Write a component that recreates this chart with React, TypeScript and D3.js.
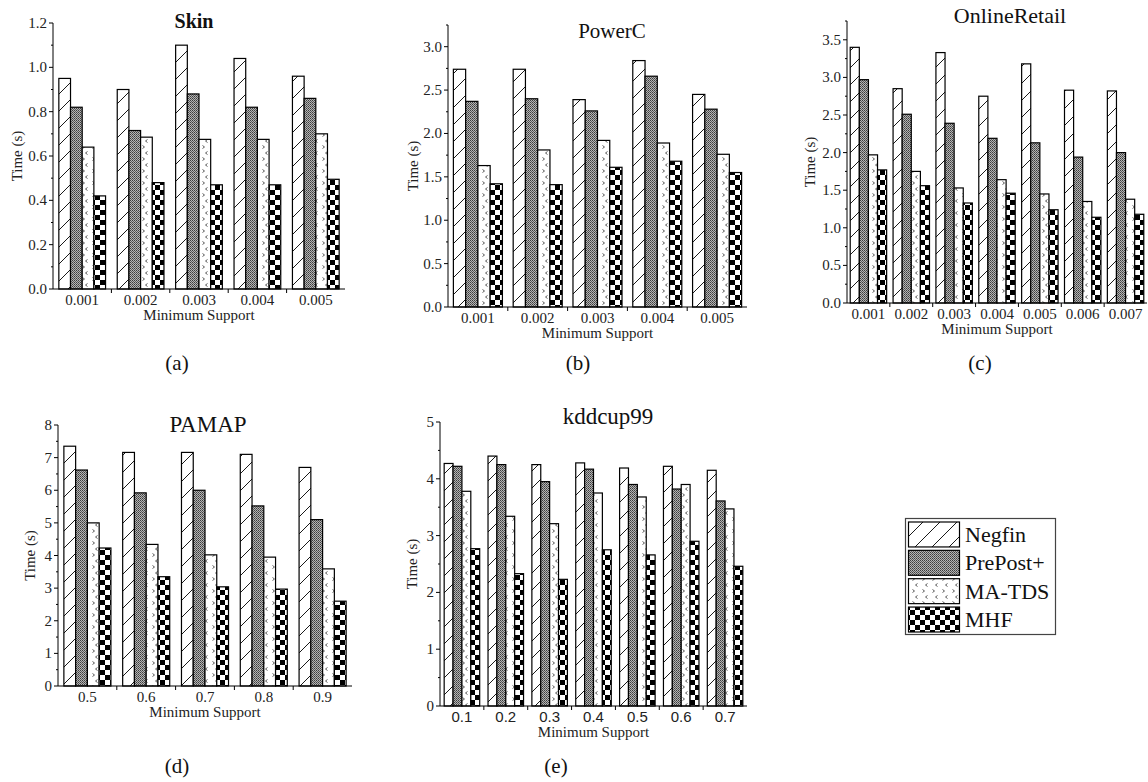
import React from "react";
import * as d3 from "d3";

const seriesNames = ["Negfin", "PrePost+", "MA-TDS", "MHF"];
const patternIds = ["pNegfin", "pPrePost", "pMATDS", "pMHF"];

const skinSupports = ["0.001", "0.002", "0.003", "0.004", "0.005"];
const skinNegfin = [0.95, 0.9, 1.1, 1.04, 0.96];
const skinPrePost = [0.82, 0.715, 0.88, 0.82, 0.86];
const skinMATDS = [0.64, 0.685, 0.675, 0.675, 0.7];
const skinMHF = [0.42, 0.48, 0.47, 0.47, 0.495];
const skinTicks = [0, 0.2, 0.4, 0.6, 0.8, 1.0, 1.2];

const powerSupports = ["0.001", "0.002", "0.003", "0.004", "0.005"];
const powerNegfin = [2.74, 2.74, 2.39, 2.84, 2.45];
const powerPrePost = [2.37, 2.4, 2.26, 2.66, 2.28];
const powerMATDS = [1.63, 1.81, 1.92, 1.89, 1.76];
const powerMHF = [1.42, 1.41, 1.61, 1.68, 1.55];
const powerTicks = [0, 0.5, 1.0, 1.5, 2.0, 2.5, 3.0];

const retailSupports = ["0.001", "0.002", "0.003", "0.004", "0.005", "0.006", "0.007"];
const retailNegfin = [3.4, 2.85, 3.33, 2.75, 3.18, 2.83, 2.82];
const retailPrePost = [2.97, 2.51, 2.39, 2.19, 2.13, 1.94, 2.0];
const retailMATDS = [1.97, 1.75, 1.53, 1.64, 1.45, 1.35, 1.38];
const retailMHF = [1.77, 1.56, 1.33, 1.46, 1.24, 1.14, 1.18];
const retailTicks = [0, 0.5, 1.0, 1.5, 2.0, 2.5, 3.0, 3.5];

const pamapSupports = ["0.5", "0.6", "0.7", "0.8", "0.9"];
const pamapNegfin = [7.35, 7.16, 7.16, 7.1, 6.7];
const pamapPrePost = [6.62, 5.92, 6.0, 5.52, 5.1];
const pamapMATDS = [5.0, 4.34, 4.02, 3.95, 3.59];
const pamapMHF = [4.23, 3.35, 3.04, 2.97, 2.6];
const pamapTicks = [0, 1, 2, 3, 4, 5, 6, 7, 8];

const kddSupports = ["0.1", "0.2", "0.3", "0.4", "0.5", "0.6", "0.7"];
const kddNegfin = [4.27, 4.4, 4.25, 4.28, 4.19, 4.22, 4.15];
const kddPrePost = [4.22, 4.25, 3.95, 4.17, 3.9, 3.82, 3.61];
const kddMATDS = [3.78, 3.34, 3.21, 3.75, 3.68, 3.9, 3.47];
const kddMHF = [2.77, 2.33, 2.23, 2.75, 2.66, 2.9, 2.46];
const kddTicks = [0, 1, 2, 3, 4, 5];

const SERIF = "'Liberation Serif', 'Times New Roman', serif";
const SANS = "'Liberation Sans', Arial, sans-serif";

const panels = [
  {
    title: "Skin", titleX: 194, titleY: 28, titleSize: 20, titleWeight: "bold",
    cats: skinSupports, series: [skinNegfin, skinPrePost, skinMATDS, skinMHF],
    ticks: skinTicks, minor: 0.1, yMax: 1.2, fmt: ".1f",
    x0: 53, x1: 345, y0: 289, yTop: 23, pad: 0.2,
    ylabX: 17, xLabFont: SERIF, caption: "(a)", capX: 177, capY: 370,
  },
  {
    title: "PowerC", titleX: 612, titleY: 38, titleSize: 21, titleWeight: "normal",
    cats: powerSupports, series: [powerNegfin, powerPrePost, powerMATDS, powerMHF],
    ticks: powerTicks, minor: 0.25, yMax: 3.25, fmt: ".1f",
    x0: 448, x1: 747, y0: 307, yTop: 25, pad: 0.18,
    ylabX: 413, xLabFont: SERIF, caption: "(b)", capX: 578, capY: 370,
  },
  {
    title: "OnlineRetail", titleX: 1010, titleY: 23, titleSize: 22, titleWeight: "normal",
    cats: retailSupports, series: [retailNegfin, retailPrePost, retailMATDS, retailMHF],
    ticks: retailTicks, minor: 0.25, yMax: 3.75, fmt: ".1f",
    x0: 847, x1: 1147, y0: 303, yTop: 21, pad: 0.15,
    ylabX: 810, xLabFont: SERIF, caption: "(c)", capX: 980, capY: 370,
  },
  {
    title: "PAMAP", titleX: 208, titleY: 432, titleSize: 23, titleWeight: "normal",
    cats: pamapSupports, series: [pamapNegfin, pamapPrePost, pamapMATDS, pamapMHF],
    ticks: pamapTicks, minor: 0.5, yMax: 8, fmt: "d",
    x0: 58, x1: 352, y0: 686, yTop: 425, pad: 0.2,
    ylabX: 30, xLabFont: SERIF, caption: "(d)", capX: 177, capY: 773,
  },
  {
    title: "kddcup99", titleX: 608, titleY: 424, titleSize: 23, titleWeight: "normal",
    cats: kddSupports, series: [kddNegfin, kddPrePost, kddMATDS, kddMHF],
    ticks: kddTicks, minor: 0.5, yMax: 5, fmt: "d",
    x0: 440, x1: 747, y0: 706, yTop: 422, pad: 0.19,
    ylabX: 412, xLabFont: SANS, caption: "(e)", capX: 556, capY: 773,
  },
];

function Patterns() {
  return (
    <defs>
      <pattern id="pNegfin" width="17" height="17" patternUnits="userSpaceOnUse">
        <rect width="17" height="17" fill="#fff" />
        <path d="M0,17 L17,0 M-4,4 L4,-4 M13,21 L21,13" stroke="#000" strokeWidth="0.9" />
      </pattern>
      <pattern id="pPrePost" width="2" height="2" patternUnits="userSpaceOnUse">
        <rect width="2" height="2" fill="#b4b4b4" />
        <rect width="1" height="1" fill="#3c3c3c" />
        <rect x="1" y="1" width="1" height="1" fill="#5c5c5c" />
      </pattern>
      <pattern id="pMATDS" width="10" height="12" patternUnits="userSpaceOnUse">
        <rect width="10" height="12" fill="#fff" />
        <path d="M2.5,1.5 L4.5,3 L2.5,4.5 M7.5,7.5 L5.5,9 L7.5,10.5" stroke="#333" strokeWidth="0.8" fill="none" />
      </pattern>
      <pattern id="pMHF" width="10" height="10" patternUnits="userSpaceOnUse">
        <rect width="10" height="10" fill="#fff" />
        <rect width="5" height="5" fill="#000" />
        <rect x="5" y="5" width="5" height="5" fill="#000" />
      </pattern>
    </defs>
  );
}

function Panel({ cfg }: { cfg: any }) {
  const x = d3
    .scaleBand<string>()
    .domain(cfg.cats)
    .range([cfg.x0, cfg.x1])
    .paddingInner(cfg.pad)
    .paddingOuter(cfg.pad / 2);
  const sub = d3.scaleBand<string>().domain(seriesNames).range([0, x.bandwidth()]);
  const y = d3.scaleLinear().domain([0, cfg.yMax]).range([cfg.y0, cfg.yTop]);
  const fmt = d3.format(cfg.fmt);
  const minors = d3
    .range(0, cfg.yMax + 1e-9, cfg.minor)
    .filter((v: number) => !cfg.ticks.some((t: number) => Math.abs(t - v) < 1e-9));
  const boundaries = d3.range(1, cfg.cats.length).map((i: number) => cfg.x0 + i * x.step());
  const yMid = (cfg.y0 + cfg.yTop) / 2;

  return (
    <g>
      {cfg.cats.map((c: string, ci: number) => (
        <g key={c}>
          {cfg.series.map((s: number[], si: number) => (
            <rect
              key={si}
              x={(x(c) as number) + (sub(seriesNames[si]) as number)}
              y={y(s[ci])}
              width={sub.bandwidth()}
              height={cfg.y0 - y(s[ci])}
              fill={`url(#${patternIds[si]})`}
              stroke="#000"
              strokeWidth={1.2}
            />
          ))}
        </g>
      ))}
      {/* axes */}
      <line x1={cfg.x0} x2={cfg.x0} y1={cfg.y0} y2={y(cfg.yMax)} stroke="#000" strokeWidth={1} />
      <line x1={cfg.x0} x2={cfg.x1} y1={cfg.y0} y2={cfg.y0} stroke="#000" strokeWidth={1} />
      {cfg.ticks.map((t: number) => (
        <g key={t}>
          <line x1={cfg.x0 - 4} x2={cfg.x0} y1={y(t)} y2={y(t)} stroke="#000" />
          <text
            x={cfg.x0 - 6}
            y={y(t)}
            textAnchor="end"
            dominantBaseline="central"
            fontFamily={SERIF}
            fontSize={15}
            fill="#222"
          >
            {fmt(t)}
          </text>
        </g>
      ))}
      {minors.map((t: number) => (
        <line key={"m" + t} x1={cfg.x0 - 2} x2={cfg.x0} y1={y(t)} y2={y(t)} stroke="#000" />
      ))}
      {boundaries.map((b: number, i: number) => (
        <line key={"b" + i} x1={b} x2={b} y1={cfg.y0} y2={cfg.y0 + 4} stroke="#000" />
      ))}
      {cfg.cats.map((c: string) => (
        <text
          key={"l" + c}
          x={(x(c) as number) + x.bandwidth() / 2}
          y={cfg.y0 + 16}
          textAnchor="middle"
          fontFamily={cfg.xLabFont}
          fontSize={15}
          fill="#222"
        >
          {c}
        </text>
      ))}
      <text
        x={(cfg.x0 + cfg.x1) / 2}
        y={cfg.y0 + 31}
        textAnchor="middle"
        fontFamily={SERIF}
        fontSize={15}
        fill="#222"
      >
        Minimum Support
      </text>
      <text
        transform={`translate(${cfg.ylabX},${yMid}) rotate(-90)`}
        textAnchor="middle"
        dominantBaseline="central"
        fontFamily={SERIF}
        fontSize={15}
        fill="#222"
      >
        Time (s)
      </text>
      <text
        x={cfg.titleX}
        y={cfg.titleY}
        textAnchor="middle"
        fontFamily={SERIF}
        fontSize={cfg.titleSize}
        fontWeight={cfg.titleWeight}
        fill="#111"
      >
        {cfg.title}
      </text>
      <text x={cfg.capX} y={cfg.capY} textAnchor="middle" fontFamily={SERIF} fontSize={21} fill="#111">
        {cfg.caption}
      </text>
    </g>
  );
}

function Legend() {
  const rowY = d3.scaleBand<string>().domain(seriesNames).range([522, 632]).paddingInner(0.12);
  return (
    <g>
      <rect x={905.5} y={518.5} width={150} height={116} fill="#fff" stroke="#444" strokeWidth={1.2} />
      {seriesNames.map((s, i) => (
        <g key={s}>
          <rect
            x={908.5}
            y={rowY(s) as number}
            width={51}
            height={rowY.bandwidth()}
            fill={`url(#${patternIds[i]})`}
            stroke="#000"
            strokeWidth={1.2}
          />
          <text
            x={965}
            y={(rowY(s) as number) + rowY.bandwidth() / 2}
            dominantBaseline="central"
            fontFamily={SERIF}
            fontSize={22}
            fill="#111"
          >
            {s}
          </text>
        </g>
      ))}
    </g>
  );
}

export default function App() {
  return (
    <div style={{ position: "absolute", left: 0, top: 0 }}>
      <svg width={1148} height={782} style={{ display: "block", background: "#fff" }}>
        <Patterns />
        <rect width={1148} height={782} fill="#fff" />
        {panels.map((p) => (
          <Panel key={p.title} cfg={p} />
        ))}
        <Legend />
      </svg>
    </div>
  );
}
